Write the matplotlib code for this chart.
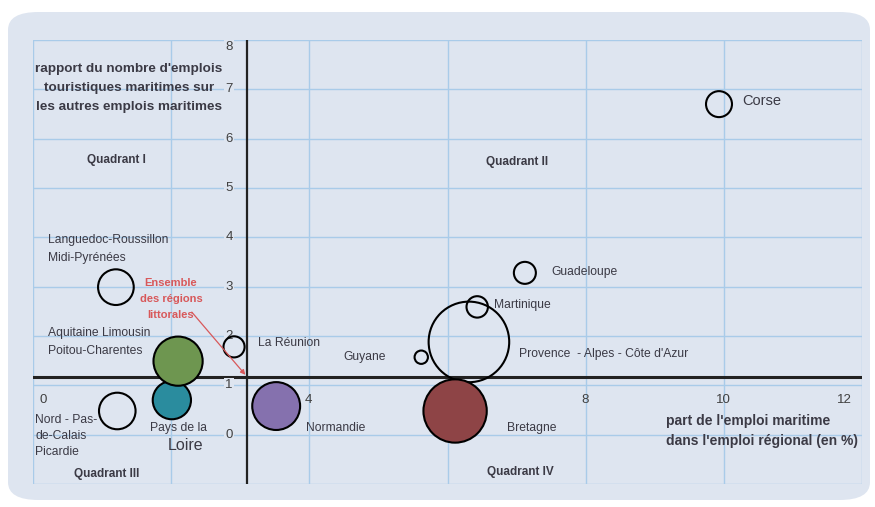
import numpy as np
import matplotlib
matplotlib.use("Agg")
import matplotlib.pyplot as plt
from matplotlib.patches import FancyBboxPatch

plt.rcParams['font.family'] = ['Liberation Sans', 'DejaVu Sans']

# regions, part de l'emploi maritime (%), rapport tourisme / autres emplois maritimes
regions = ["Corse", "Guadeloupe", "Martinique", "Provence - Alpes - Côte d'Azur", "Guyane",
           "Bretagne", "Normandie", "Pays de la Loire", "Aquitaine Limousin Poitou-Charentes",
           "Nord - Pas-de-Calais Picardie", "Languedoc-Roussillon Midi-Pyrénées", "La Réunion"]
part_emploi = [9.93, 7.12, 6.43, 6.31, 5.62, 6.11, 3.52, 2.01, 2.10, 1.22, 1.20, 2.91]
rapport = [6.70, 3.28, 2.59, 1.88, 1.57, 0.48, 0.58, 0.70, 1.49, 0.48, 2.99, 1.78]
# taille des bulles : emploi maritime (milliers, estimé)
emploi_maritime = [10.6, 7.6, 7.2, 102, 2.8, 63, 36, 23, 38, 21, 20, 7]
couleurs = ["none", "none", "none", "none", "none", "#8e4446", "#8571ae", "#2a8c9e",
            "#6e9650", "none", "none", "none"]
# ensemble des régions littorales
moy_x, moy_y = 3.10, 1.17

W, H = 875, 507
bg = "#dee5f0"
txt = "#3b3a45"

fig = plt.figure(figsize=(W / 100, H / 100), dpi=100)
fig.patch.set_facecolor("white")
panel = FancyBboxPatch((8 / W, 1 - 500 / H), 862 / W, 488 / H,
                       boxstyle="round,pad=0,rounding_size=0.035",
                       transform=fig.transFigure, facecolor=bg, edgecolor="none", zorder=-5)
fig.patches.append(panel)

ax = fig.add_axes([33 / W, 1 - 484 / H, 829 / W, 444 / H])
ax.set_facecolor(bg)
ax.set_xlim(0, 12)
ax.set_ylim(-1, 8)
for s in ax.spines.values():
    s.set_visible(False)
ax.set_xticks(np.arange(0, 13, 2))
ax.set_yticks(np.arange(-1, 9, 1))
ax.tick_params(length=0, labelbottom=False, labelleft=False)
ax.grid(True, color="#a9cbe9", lw=1)
ax.set_axisbelow(True)

ax.axvline(moy_x, color="#222222", lw=1.6, zorder=2)
ax.axhline(moy_y, color="#222222", lw=2.2, zorder=2)

# tick labels along the crossing axes
for v, xp in [(0, 0.15), (4, 3.98), (8, 7.99), (10, 10.0), (12, 11.75)]:
    ax.text(xp, 0.70, str(v), ha="center", va="center", fontsize=9.5, color="#404040", zorder=3)
for v in range(0, 9):
    yp = 7.86 if v == 8 else v
    ax.text(2.84, yp, str(v), ha="center", va="center", fontsize=9.5, color="#404040", zorder=3,
            bbox=dict(boxstyle="square,pad=0.1", fc=bg, ec="none"))

sizes = [33 * e for e in emploi_maritime]
ax.scatter(part_emploi, rapport, s=sizes, c=couleurs, edgecolors="black", linewidths=1.5, zorder=4)


def fx(px, py):
    return (px / W, 1 - py / H)


def label(px, py, s, **kw):
    kw.setdefault("fontsize", 8.7)
    kw.setdefault("color", txt)
    kw.setdefault("va", "center")
    fig.text(*fx(px, py), s, zorder=5, **kw)


label(129, 88, "rapport du nombre d'emplois\ntouristiques maritimes sur\nles autres emplois maritimes",
      ha="center", fontsize=9.7, fontweight="bold", linespacing=1.75)
label(666, 431, "part de l'emploi maritime\ndans l'emploi régional (en %)",
      fontsize=10, fontweight="bold", linespacing=1.5)

for px, py, s in [(116, 160, "Quadrant I"), (517, 162, "Quadrant II"),
                  (107, 474, "Quadrant III"), (520, 472, "Quadrant IV")]:
    label(px, py, s, ha="center", fontsize=8.5, fontweight="bold")

label(742, 101, "Corse", fontsize=10.5)
label(551, 272, "Guadeloupe")
label(494, 305, "Martinique")
label(519, 354, "Provence  - Alpes - Côte d'Azur")
label(343, 357, "Guyane")
label(258, 343, "La Réunion")
label(48, 249, "Languedoc-Roussillon\nMidi-Pyrénées", linespacing=1.65)
label(48, 342, "Aquitaine Limousin\nPoitou-Charentes", linespacing=1.65)
label(35, 436, "Nord - Pas-\nde-Calais\nPicardie", linespacing=1.45)
label(150, 428, "Pays de la")
label(168, 446, "Loire", fontsize=11.5)
label(306, 428, "Normandie")
label(507, 428, "Bretagne")

red = "#d8585a"
label(171, 299, "Ensemble\ndes régions\nlittorales", ha="center", color=red,
      fontsize=8, fontweight="bold", linespacing=1.7)
ax.annotate("", xy=(moy_x, moy_y), xytext=fx(190, 310), textcoords="figure fraction",
            arrowprops=dict(arrowstyle="-|>", color=red, lw=0.9, mutation_scale=7), zorder=5)

fig.savefig("out.png", dpi=100)
